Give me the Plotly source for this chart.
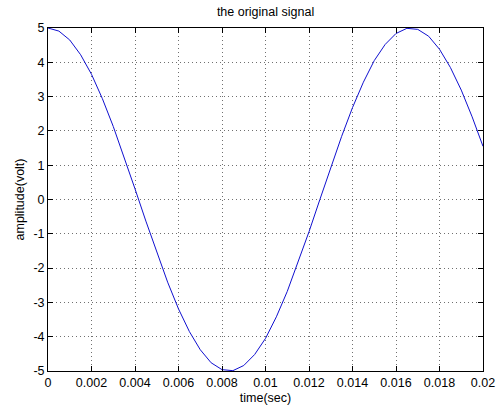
import plotly.graph_objects as go

# time samples (sec) and amplitude (volt)
time_sec = [i * 0.0005 for i in range(41)]
amplitude = [5.00, 4.91, 4.65, 4.22, 3.65, 2.94, 2.13, 1.24, 0.31, -0.63,
             -1.55, -2.41, -3.19, -3.85, -4.38, -4.76, -4.96, -4.99, -4.84, -4.52,
             -4.05, -3.42, -2.68, -1.84, -0.94, 0.00, 0.94, 1.84, 2.68, 3.42,
             4.05, 4.52, 4.84, 4.99, 4.96, 4.76, 4.38, 3.85, 3.19, 2.41, 1.55]

x_ticks = [0, 0.002, 0.004, 0.006, 0.008, 0.01, 0.012, 0.014, 0.016, 0.018, 0.02]
x_tick_labels = ["0", "0.002", "0.004", "0.006", "0.008", "0.01", "0.012", "0.014", "0.016", "0.018", "0.02"]
y_ticks = [-5, -4, -3, -2, -1, 0, 1, 2, 3, 4, 5]
y_tick_labels = [str(v) for v in y_ticks]

FONT = "Liberation Sans, Arial, sans-serif"

fig = go.Figure()
fig.add_trace(go.Scatter(x=time_sec, y=amplitude, mode="lines",
                         line=dict(color="#1010d0", width=1), showlegend=False))

axis_common = dict(
    showline=True, linecolor="black", linewidth=1, mirror="ticks",
    ticks="inside", ticklen=5, tickcolor="black", tickwidth=1,
    showgrid=True, gridcolor="#707070", gridwidth=1, griddash="1px,3px",
    zeroline=False, automargin=False,
    tickfont=dict(family=FONT, size=12.5, color="black"),
)

fig.update_layout(
    width=501, height=407,
    margin=dict(l=48, r=18, t=28, b=36, pad=0),
    paper_bgcolor="white", plot_bgcolor="white",
    title=dict(text="the original signal", x=0.53, xanchor="center", y=1 - 12 / 407, yanchor="middle",
               font=dict(family=FONT, size=12.5, color="black")),
    xaxis=dict(range=[0, 0.02], tickvals=x_ticks, ticktext=x_tick_labels,
               title=dict(text="time(sec)", font=dict(family=FONT, size=12.5, color="black"), standoff=4),
               **axis_common),
    yaxis=dict(range=[-5, 5], tickvals=y_ticks, ticktext=y_tick_labels,
               title=dict(text="amplitude(volt)", font=dict(family=FONT, size=12.5, color="black"), standoff=6),
               **axis_common),
)

fig.write_html("out.html")
